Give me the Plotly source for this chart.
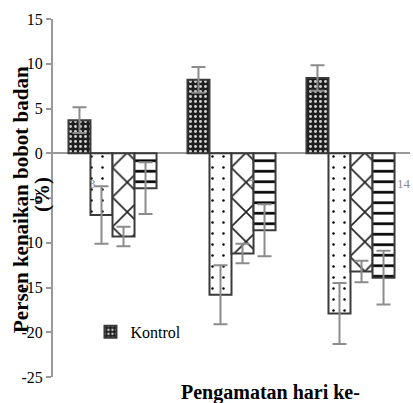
import plotly.graph_objects as go

# Data
days = ["3", "7", "14"]
kontrol = [3.7, 8.2, 8.4]
kontrol_err = [1.45, 1.43, 1.42]
perlakuan1 = [-6.9, -15.8, -17.9]
perlakuan1_err = [3.2, 3.3, 3.4]
perlakuan2 = [-9.3, -11.2, -13.2]
perlakuan2_err = [1.1, 1.1, 1.2]
perlakuan3 = [-3.9, -8.6, -13.9]
perlakuan3_err = [2.9, 2.9, 3.0]
y_ticks = [15, 10, 5, 0, -5, -10, -15, -20, -25]
y_ticktext = ["15", "10", "5", "0", "-5", "-10", "-15", "-20", "-25"]

FONT = "Liberation Serif, Times New Roman, serif"
ERR = dict(type="data", symmetric=True, color="#8c8c8c", thickness=2, width=7)
LINE = dict(color="#3a3a3a", width=2)

fig = go.Figure()
fig.add_trace(go.Bar(
    x=days, y=kontrol, name="Kontrol",
    error_y=dict(array=kontrol_err, **ERR),
    marker=dict(color="#1e1e1e", line=LINE,
                pattern=dict(shape=".", fgcolor="#d0d0d0", bgcolor="#1e1e1e",
                             size=5, solidity=0.28, fillmode="replace")),
    showlegend=True,
))
fig.add_trace(go.Bar(
    x=days, y=perlakuan1, name="Perlakuan 1",
    error_y=dict(array=perlakuan1_err, **ERR),
    marker=dict(color="white", line=LINE,
                pattern=dict(shape=".", fgcolor="black", bgcolor="white",
                             size=11, solidity=0.04, fillmode="replace")),
    showlegend=False,
))
fig.add_trace(go.Bar(
    x=days, y=perlakuan2, name="Perlakuan 2",
    error_y=dict(array=perlakuan2_err, **ERR),
    marker=dict(color="white", line=LINE,
                pattern=dict(shape="x", fgcolor="#222222", bgcolor="white",
                             size=21, solidity=0.15, fillmode="replace")),
    showlegend=False,
))
fig.add_trace(go.Bar(
    x=days, y=perlakuan3, name="Perlakuan 3",
    error_y=dict(array=perlakuan3_err, **ERR),
    marker=dict(color="white", line=LINE,
                pattern=dict(shape="-", fgcolor="black", bgcolor="white",
                             size=10.5, solidity=0.25, fillmode="replace")),
    showlegend=False,
))

label_pos = [-0.164, 1.172, 2.45]
for p, t in zip(label_pos, days):
    fig.add_annotation(x=p, y=-3.4, xref="x", yref="y", text=t, showarrow=False,
                       font=dict(family=FONT, size=13, color="#8c8c8c"))

fig.update_layout(
    width=413, height=403,
    margin=dict(l=53, r=3, t=19, b=26),
    paper_bgcolor="white", plot_bgcolor="white",
    barmode="group", bargap=0.26, bargroupgap=0,
    font=dict(family=FONT, size=16, color="black"),
    showlegend=True,
    legend=dict(x=0.105, y=0.126, xanchor="left", yanchor="middle",
                bgcolor="rgba(0,0,0,0)", font=dict(family=FONT, size=16),
                itemwidth=30),
    xaxis=dict(type="category", range=[-0.5, 2.5], showticklabels=False,
               showline=False, ticks="", showgrid=False, zeroline=False),
    yaxis=dict(range=[-25, 15], tickvals=y_ticks, ticktext=y_ticktext,
               ticks="outside", ticklen=5,
               tickcolor="#999999", tickwidth=1.5,
               showline=True, linecolor="#999999", linewidth=2,
               showgrid=False, zeroline=True, zerolinecolor="#999999",
               zerolinewidth=1.5, tickfont=dict(family=FONT, size=16)),
)

fig.add_annotation(x=(21 - 53) / 357, y=(377 - 200) / 358, xref="paper", yref="paper",
                   text="<b>Persen kenaikan bobot badan</b>", showarrow=False,
                   textangle=-90, xanchor="center", yanchor="middle",
                   font=dict(family=FONT, size=21, color="black"))
fig.add_annotation(x=(42 - 53) / 357, y=(377 - 195) / 358, xref="paper", yref="paper",
                   text="<b>(%)</b>", showarrow=False,
                   textangle=-90, xanchor="center", yanchor="middle",
                   font=dict(family=FONT, size=21, color="black"))
fig.add_annotation(x=(270 - 53) / 357, y=(377 - 392) / 358, xref="paper", yref="paper",
                   text="<b>Pengamatan hari ke-</b>", showarrow=False,
                   xanchor="center", yanchor="middle",
                   font=dict(family=FONT, size=20, color="black"))

fig.write_html("out.html", config={"displayModeBar": False},
               post_script="document.body.style.margin='0px';")
